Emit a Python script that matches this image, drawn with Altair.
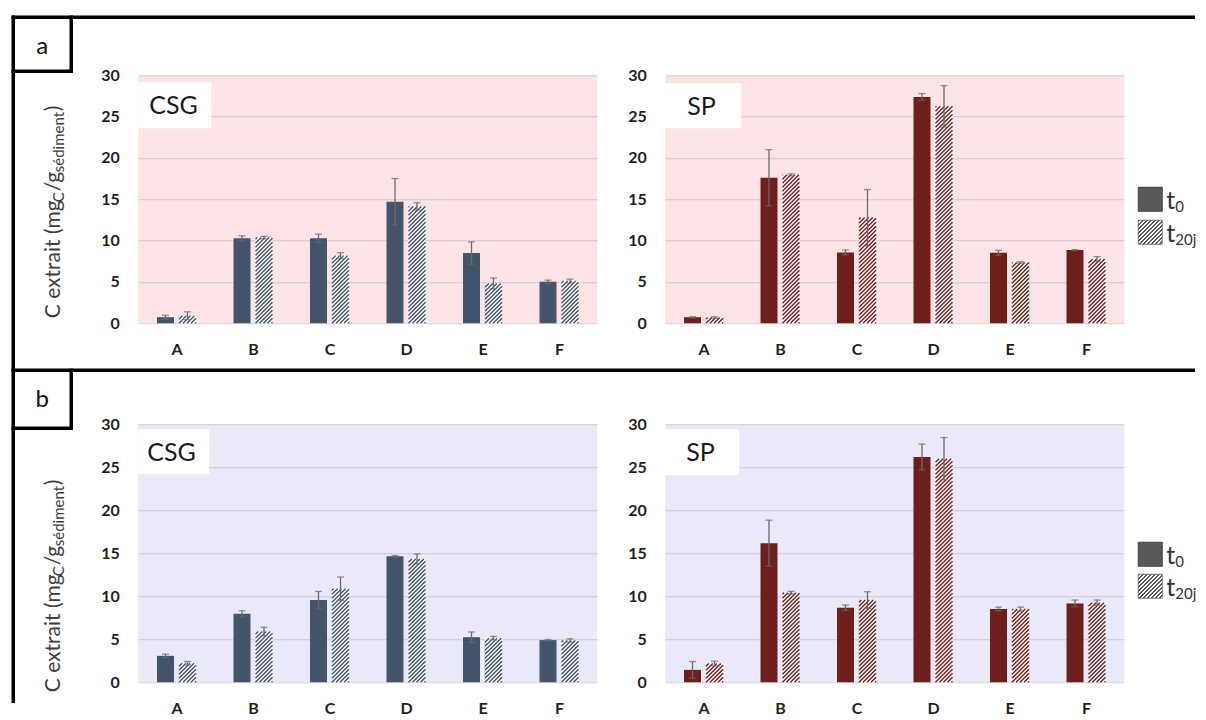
import altair as alt
import numpy as np
import pandas as pd

# ---------------- data ----------------
categories = ["A", "B", "C", "D", "E", "F"]
series = ["t0", "t20j"]
legend_main = ["t", "t"]
legend_sub = ["0", "20j"]
panel_names = ["CSG", "SP"]
row_tags = ["a", "b"]
y_ticks = [0, 5, 10, 15, 20, 25, 30]
title_parts = ["C extrait (mg", "C", "/g", "sédiment", ")"]

# row (a) - CSG
a_csg_t0 = [0.73, 10.28, 10.28, 14.70, 8.50, 5.02]
a_csg_t0_err = [0.24, 0.30, 0.50, 2.80, 1.35, 0.20]
a_csg_t20 = [0.90, 10.36, 8.18, 14.13, 4.82, 5.10]
a_csg_t20_err = [0.48, 0.15, 0.36, 0.45, 0.65, 0.24]
# row (a) - SP
a_sp_t0 = [0.73, 17.60, 8.57, 27.38, 8.53, 8.86]
a_sp_t0_err = [0.07, 3.40, 0.30, 0.40, 0.30, 0.05]
a_sp_t20 = [0.69, 17.95, 12.78, 26.24, 7.36, 7.76]
a_sp_t20_err = [0.10, 0.12, 3.40, 2.50, 0.08, 0.30]
# row (b) - CSG
b_csg_t0 = [3.07, 7.96, 9.56, 14.65, 5.24, 4.90]
b_csg_t0_err = [0.20, 0.35, 1.00, 0.08, 0.60, 0.08]
b_csg_t20 = [2.21, 5.90, 10.88, 14.34, 5.13, 4.86]
b_csg_t20_err = [0.20, 0.50, 1.36, 0.58, 0.20, 0.19]
# row (b) - SP
b_sp_t0 = [1.44, 16.17, 8.67, 26.19, 8.51, 9.17]
b_sp_t0_err = [0.97, 2.68, 0.31, 1.50, 0.23, 0.39]
b_sp_t20 = [2.18, 10.42, 9.56, 26.00, 8.51, 9.25]
b_sp_t20_err = [0.27, 0.15, 0.97, 2.45, 0.23, 0.31]

# ---------------- style ----------------
FONT = "Lato"
W = 459
H_A = 248
H_B = 258
Y_MAX = 30
XU = W / len(categories)      # pixels per category
BAR_W = 17
GAP = 5
SV = 4.0                      # hatch vertical period (px)
CSG_COLOR = "#44546A"
SP_COLOR = "#6E1F1C"
BG_A = "#FCE4E6"
BG_B = "#E9E9FA"
ERR_COLOR = "#6A6A6A"
ONE = pd.DataFrame({"k": [0]})
label_expr = "[" + ",".join("'%s'" % c for c in categories) + "][datum.value]"

XS = alt.Scale(domain=[-0.5, len(categories) - 0.5], nice=False, zero=False)
YS = alt.Scale(domain=[0, Y_MAX], nice=False)
XAXIS = alt.Axis(values=list(range(len(categories))), labelExpr=label_expr, title=None,
                 grid=False, domain=False, ticks=False, labelPadding=18, labelFlush=False)
YAXIS = alt.Axis(values=y_ticks, title=None, grid=True, domain=False, ticks=False,
                 labelPadding=19, labelFlush=False)


def X(f):
    return alt.X(f, scale=XS, axis=XAXIS)


def Y(f):
    return alt.Y(f, scale=YS, axis=YAXIS)


def bar_table(t0, t0e, t20, t20e):
    rows = []
    for i, c in enumerate(categories):
        for s, v, e, sign in ((series[0], t0[i], t0e[i], -1), (series[1], t20[i], t20e[i], 1)):
            xc = i + sign * (GAP / 2 + BAR_W / 2) / XU
            rows.append(dict(cat=c, series=s, value=v, lo=v - e, hi=v + e, xc=xc,
                             x_lo=xc - BAR_W / 2 / XU, x_hi=xc + BAR_W / 2 / XU))
    return pd.DataFrame(rows)


def hatch_table(df, H):
    ppy = H / Y_MAX
    out = []
    for r in df[df.series == series[1]].itertuples():
        xl = r.x_lo * XU
        h = r.value * ppy
        k = -int(np.ceil(BAR_W / SV))
        while k * SV < h:
            c = k * SV
            y0 = max(c, 0.0)
            y1 = min(c + BAR_W, h)
            if y1 - y0 > 0.2:
                out.append(dict(hx=(xl + y0 - c) / XU, hx2=(xl + y1 - c) / XU,
                                hy=y0 / ppy, hy2=y1 / ppy))
            k += 1
    return pd.DataFrame(out)


def txt(text, x, y, size, color="#1a1a1a", weight="normal", angle=None, align="left"):
    kw = dict(fontSize=size, color=color, fontWeight=weight, align=align,
              baseline="alphabetic", font=FONT)
    if angle is not None:
        kw["angle"] = angle
    return alt.Chart(pd.DataFrame({"t": [text]})).mark_text(**kw).encode(
        x=alt.value(x), y=alt.value(y), text="t:N")


def line(x1, x2, y1, y2, w=3.5):
    return alt.Chart(ONE).mark_rule(color="black", strokeWidth=w, strokeCap="square").encode(
        x=alt.value(x1), x2=alt.value(x2), y=alt.value(y1), y2=alt.value(y2))


def box(x1, x2, y1, y2, **kw):
    return alt.Chart(ONE).mark_rect(**kw).encode(
        x=alt.value(x1), x2=alt.value(x2), y=alt.value(y1), y2=alt.value(y2))


def stripes(color, n=12):
    stops = []
    for k in range(n):
        a, b, c = k / n, (k + 0.5) / n, (k + 1) / n
        stops += [alt.GradientStop(color=color, offset=a), alt.GradientStop(color=color, offset=b),
                  alt.GradientStop(color="white", offset=b), alt.GradientStop(color="white", offset=c)]
    return alt.LinearGradient(gradient="linear", stops=stops, x1=0, y1=0, x2=1, y2=1)


def ytitle(y0):
    sizes = [21, 15, 21, 15, 21]
    xs = [-78, -74, -78, -74, -78]
    adv = [116, 11, 19, 61, 7]
    layers = []
    y = y0
    for p, s, x, a in zip(title_parts, sizes, xs, adv):
        layers.append(txt(p, x, y, s, color="#3d3d3d", angle=270))
        y -= a
    return layers


def legend(y_t0, y_t20):
    L = []
    L.append(box(473, 497, y_t0, y_t0 + 24, fill="#595959", stroke="#404040", strokeWidth=1))
    L.append(box(473, 497, y_t20, y_t20 + 24, fill=stripes("#595959"), stroke="#595959", strokeWidth=0.8))
    for k, yy in enumerate([y_t0, y_t20]):
        L.append(txt(legend_main[k], 501, yy + 22, 25, color="#333333"))
        L.append(txt(legend_sub[k], 510, yy + 25, 15, color="#333333"))
    return L


def panel(t0, t0e, t20, t20e, H, color, bg, name, box_x, name_x, box_y, extra):
    df = bar_table(t0, t0e, t20, t20e)
    hd = hatch_table(df, H)
    base = alt.Chart(df)
    solid = base.transform_filter(alt.datum.series == series[0]).mark_rect(color=color).encode(
        x=X("x_lo:Q"), x2="x_hi:Q", y=Y("value:Q"), y2=alt.datum(0))
    white = base.transform_filter(alt.datum.series == series[1]).mark_rect(color="white").encode(
        x=X("x_lo:Q"), x2="x_hi:Q", y=Y("value:Q"), y2=alt.datum(0))
    hatch = alt.Chart(hd).mark_rule(color=color, strokeWidth=1.4).encode(
        x=X("hx:Q"), x2="hx2:Q", y=Y("hy:Q"), y2="hy2:Q")
    err = base.mark_rule(color=ERR_COLOR, strokeWidth=1.3).encode(
        x=X("xc:Q"), y=Y("lo:Q"), y2="hi:Q")
    cap_lo = base.mark_tick(orient="horizontal", size=7, thickness=1.3, color=ERR_COLOR).encode(
        x=X("xc:Q"), y=Y("lo:Q"))
    cap_hi = base.mark_tick(orient="horizontal", size=7, thickness=1.3, color=ERR_COLOR).encode(
        x=X("xc:Q"), y=Y("hi:Q"))
    lab_box = box(box_x[0], box_x[1], box_y[0], box_y[1], fill="white")
    lab_txt = txt(name, name_x, box_y[0] + 32, 25, color="#1a1a1a")
    layers = [solid, white, hatch, err, cap_lo, cap_hi, lab_box, lab_txt] + extra
    return alt.layer(*layers).properties(width=W, height=H,
                                         view=alt.ViewBackground(fill=bg, stroke=None))


# frame decorations (relative to CSG panels)
frame_a = [
    line(-125, 1055, -58, -58),
    line(-125, -125, -58, 293),
    line(-67, -67, -58, -4),
    line(-125, -67, -4, -4),
    txt(row_tags[0], -96, -21, 24, color="#111111", align="center"),
] + ytitle(243)
frame_b = [
    line(-125, 1055, -54, -54),
    line(-125, -125, -54, 277),
    line(-67, -67, -54, 4),
    line(-125, -67, 4, 4),
    txt(row_tags[1], -96, -17, 24, color="#111111", align="center"),
] + ytitle(268)

csg_a = panel(a_csg_t0, a_csg_t0_err, a_csg_t20, a_csg_t20_err, H_A, CSG_COLOR, BG_A,
              panel_names[0], (0, 73), 11, (7, 53), frame_a)
sp_a = panel(a_sp_t0, a_sp_t0_err, a_sp_t20, a_sp_t20_err, H_A, SP_COLOR, BG_A,
             panel_names[1], (-1, 76), 22, (8, 53), legend(112, 145))
csg_b = panel(b_csg_t0, b_csg_t0_err, b_csg_t20, b_csg_t20_err, H_B, CSG_COLOR, BG_B,
              panel_names[0], (0, 71), 9, (5, 50), frame_b)
sp_b = panel(b_sp_t0, b_sp_t0_err, b_sp_t20, b_sp_t20_err, H_B, SP_COLOR, BG_B,
             panel_names[1], (-3, 74), 21, (5, 51), legend(118, 150))

chart = alt.concat(csg_a, sp_a, csg_b, sp_b, columns=2,
                   spacing={"row": 101, "column": 68}, bounds="flush").properties(
    padding={"left": 2.25, "top": 6.25, "right": 0, "bottom": 0}
).configure(font=FONT).configure_view(stroke=None).configure_axis(
    labelFont=FONT, labelFontSize=16, labelFontWeight="bold", labelColor="#1f1f1f",
    gridColor="#9A9A9A", gridOpacity=0.4, gridWidth=1, domain=False, ticks=False)

chart.save("out.html", embed_options={"renderer": "svg", "actions": False})
